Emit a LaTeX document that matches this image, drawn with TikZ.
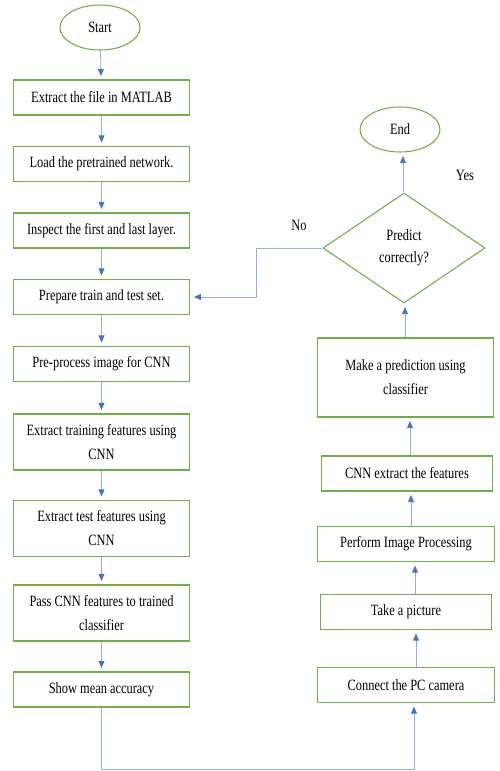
\documentclass[tikz,border=0pt]{standalone}
\usepackage{fontspec}
\setmainfont{Liberation Serif}[FakeStretch=0.79]
\usetikzlibrary{shapes.geometric,arrows.meta}

\definecolor{boxgreen}{RGB}{112,173,71}
\definecolor{linkblue}{RGB}{150,175,215}
\definecolor{tipblue}{RGB}{68,114,196}

\tikzset{
  stepbox/.style={draw=boxgreen,line width=0.9pt,minimum width=5.3cm,minimum height=1.05cm,
    align=center,inner sep=2pt,font=\fontsize{13.4}{20.5}\selectfont},
  tallbox/.style={stepbox,minimum height=1.68cm},
  terminal/.style={ellipse,draw=boxgreen,line width=0.9pt,minimum width=2.4cm,minimum height=1.35cm,
    inner sep=1pt,font=\fontsize{13.4}{15}\selectfont},
  decision/.style={diamond,draw=boxgreen,line width=0.9pt,minimum width=4.86cm,minimum height=3.3cm,
    align=center,inner sep=1pt,font=\fontsize{13.4}{19}\selectfont},
  flow/.style={draw=linkblue,line width=0.7pt,-{Triangle[width=5pt,length=6pt,color=tipblue]},shorten >=3pt},
  answer/.style={font=\fontsize{13.4}{15}\selectfont}
}

\begin{document}
\begin{tikzpicture}[x=0.03cm,y=-0.03cm]
\useasboundingbox (0,0) rectangle (500,771);

% left column: training
\node[terminal] (start) at (100,27.5) {Start};
\node[stepbox] (b1) at (101.5,97.5) {Extract the file in MATLAB};
\node[stepbox] (b2) at (101.5,164) {Load the pretrained network.};
\node[stepbox] (b3) at (101.5,230.5) {Inspect the first and last layer.};
\node[stepbox] (b4) at (101.5,297) {Prepare train and test set.};
\node[stepbox] (b5) at (101.5,364) {Pre-process image for CNN};
\node[tallbox] (b6) at (101.5,442) {Extract training features using\\CNN};
\node[tallbox] (b7) at (101.5,528.5) {Extract test features using\\CNN};
\node[tallbox] (b8) at (101.5,613) {Pass CNN features to trained\\classifier};
\node[stepbox] (b9) at (101.5,689.5) {Show mean accuracy};

% right column: live prediction
\node[stepbox] (c1) at (406,685) {Connect the PC camera};
\node[stepbox,minimum width=5.13cm] (c2) at (406,612) {Take a picture};
\node[stepbox] (c3) at (406,544) {Perform Image Processing};
\node[stepbox,minimum width=5.13cm] (c4) at (407,473.5) {CNN extract the features};
\node[stepbox,minimum height=2.37cm] (c5) at (405.5,377.5) {Make a prediction using\\classifier};
\node[decision] (dec) at (404,248) {Predict\\correctly?};
\node[terminal] (stop) at (400,129.5) {End};

\node[answer] (yes) at (465,175) {Yes};
\node[answer] (no) at (299,225) {No};

\coordinate (nocorner) at (256,248);
\coordinate (loopleft) at (101.5,769);
\coordinate (loopright) at (414,769);

\draw[flow] (start) -- (b1);
\draw[flow] (b1) -- (b2);
\draw[flow] (b2) -- (b3);
\draw[flow] (b3) -- (b4);
\draw[flow] (b4) -- (b5);
\draw[flow] (b5) -- (b6);
\draw[flow] (b6) -- (b7);
\draw[flow] (b7) -- (b8);
\draw[flow] (b8) -- (b9);

\draw[flow] (b9) -- (loopleft) -- (loopright) -- (loopright |- c1.south);
\draw[flow] (c1.north -| 416,0) -- (c2.south -| 416,0);
\draw[flow] (c2.north -| 415,0) -- (c3.south -| 415,0);
\draw[flow] (c3.north -| 411,0) -- (c4.south -| 411,0);
\draw[flow] (c4.north -| 410,0) -- (c5.south -| 410,0);
\draw[flow] (c5.north -| 405,0) -- (dec.south -| 405,0);
\draw[flow] (dec.north -| 403,0) -- (stop.south -| 403,0);

\draw[flow] (dec.west) -- (nocorner) |- (b4.east);
\end{tikzpicture}
\end{document}
